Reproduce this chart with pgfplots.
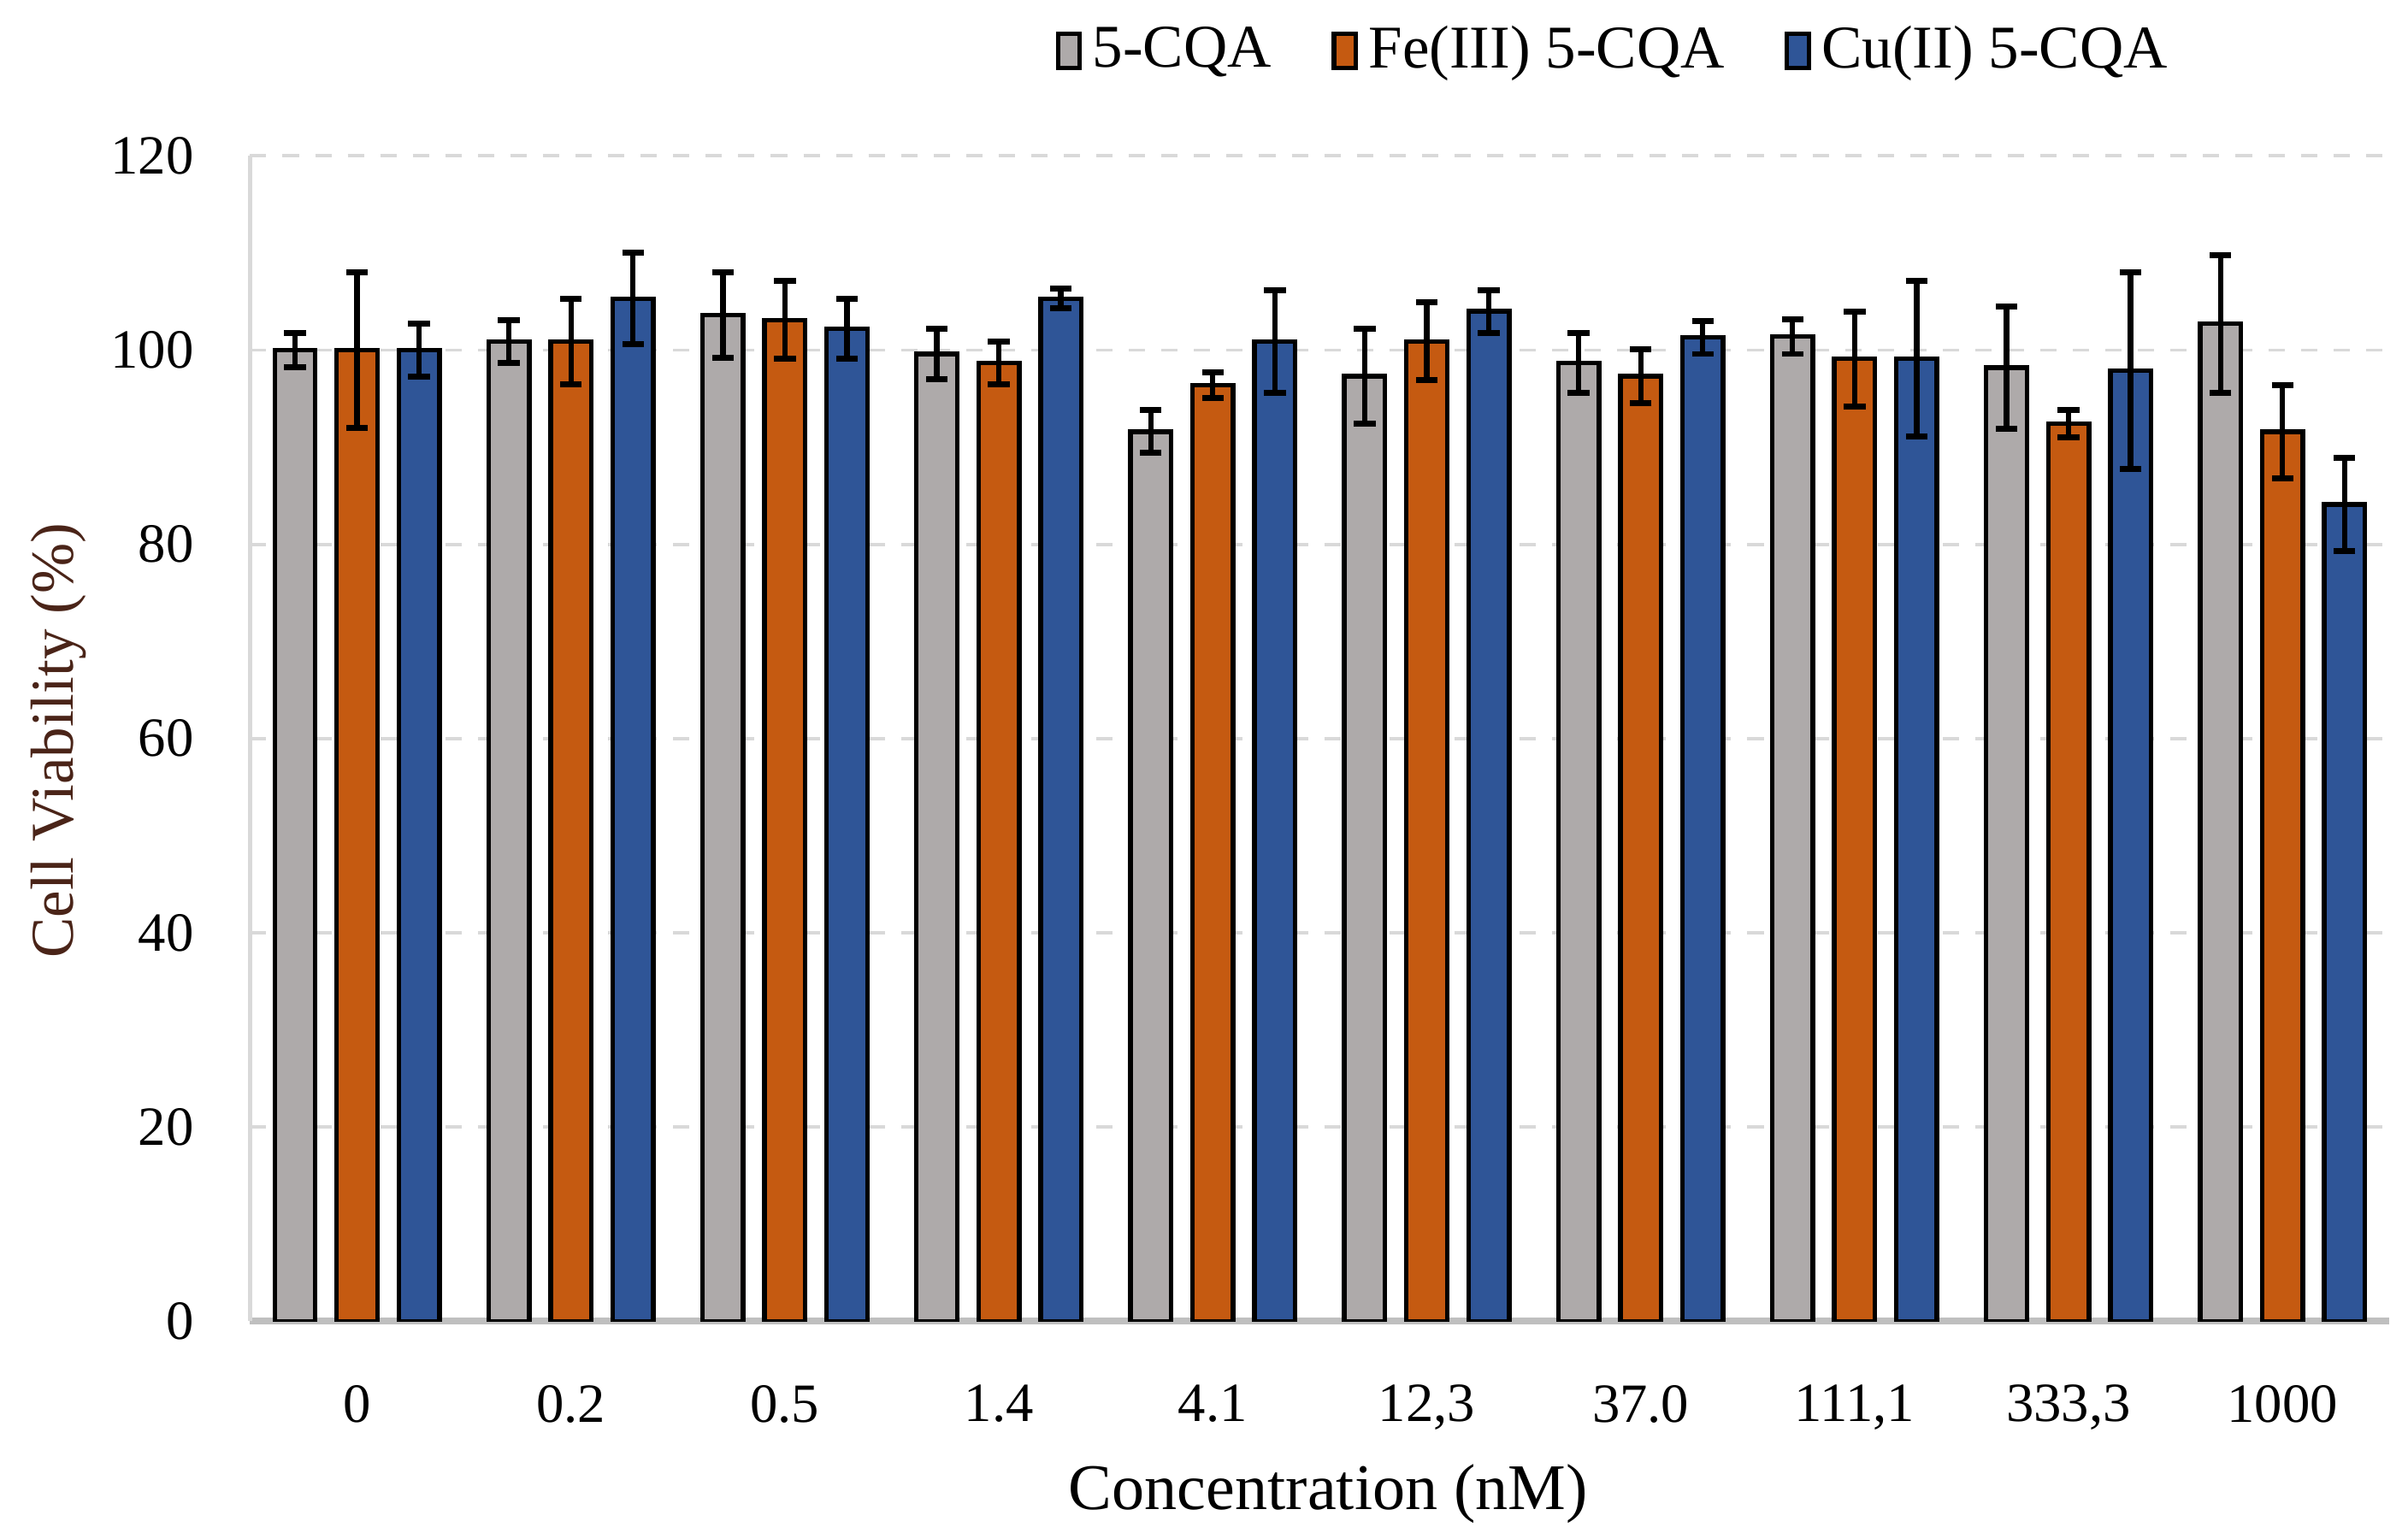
\documentclass[border=0pt]{standalone}
\usepackage{fontspec}
\setmainfont{Liberation Serif}
\usepackage{pgfplots}
\pgfplotsset{compat=1.18}
\definecolor{cgray}{HTML}{AEAAAA}
\definecolor{corange}{HTML}{C55A11}
\definecolor{cblue}{HTML}{2F5597}
\definecolor{gridc}{HTML}{D9D9D9}
\definecolor{axisc}{HTML}{BFBFBF}
\definecolor{ylab}{HTML}{4A2418}
\begin{document}
\begin{tikzpicture}
\useasboundingbox (-16.2mm,-13.7mm) rectangle (139.8mm,85.6mm);
\begin{axis}[
  at={(0,0)}, anchor=south west,
  scale only axis, width=138.6mm, height=75.5mm,
  ybar, bar width=0.19,
  xmin=-0.5, xmax=9.5, ymin=0, ymax=120,
  xtick={0,...,9},
  xticklabels={0,0.2,0.5,1.4,4.1,{12,3},37.0,{111,1},{333,3},1000},
  ytick={0,20,...,120},
  major tick length=0pt,
  /pgf/number format/assume math mode=true,
  tick label style={font=\fontsize{10.2}{12}\selectfont},
  xticklabel style={yshift=-2.9mm},
  yticklabel style={xshift=-2.4mm},
  ymajorgrids, major grid style={gridc, dashed, line width=0.6pt},
  axis x line*=bottom, axis y line*=left,
  x axis line style={axisc, line width=1.2pt, -},
  y axis line style={gridc, line width=0.8pt, -},
  xlabel={Concentration (nM)},
  ylabel={Cell Viability (\%)},
  xlabel style={font=\fontsize{12}{14}\selectfont, at={(axis description cs:0.504,0)}, anchor=center, yshift=-11.2mm},
  ylabel style={font=\fontsize{11.2}{13}\selectfont, color=ylab, at={(axis description cs:-0.0895,0.498)}, anchor=center},
  legend style={draw=none, fill=none, at={(axis description cs:0.639,1.09)}, anchor=center,
    font=\fontsize{11.2}{13}\selectfont, legend columns=3,
    /tikz/every even column/.append style={column sep=3.2mm}},
  legend image code/.code={\draw[#1, line width=0.8pt] (0cm,-0.11cm) rectangle (0.14cm,0.11cm);},
  error bars/y dir=both, error bars/y explicit,
  error bars/error bar style={black, line width=1pt},
  error bars/error mark options={black, line width=1.1pt, mark size=2pt, rotate=90},
]
\addplot[fill=cgray, draw=black, line width=0.85pt, bar shift=-0.29] coordinates {
 (0,100) +- (0,1.8)
 (1,100.9) +- (0,2.2)
 (2,103.6) +- (0,4.4)
 (3,99.6) +- (0,2.6)
 (4,91.6) +- (0,2.2)
 (5,97.3) +- (0,4.9)
 (6,98.7) +- (0,3.1)
 (7,101.4) +- (0,1.8)
 (8,98.2) +- (0,6.3)
 (9,102.7) +- (0,7.1)
};
\addplot[fill=corange, draw=black, line width=0.85pt, bar shift=0] coordinates {
 (0,100) +- (0,8.0)
 (1,100.9) +- (0,4.4)
 (2,103.1) +- (0,4.0)
 (3,98.7) +- (0,2.2)
 (4,96.4) +- (0,1.3)
 (5,100.9) +- (0,4.0)
 (6,97.3) +- (0,2.8)
 (7,99.1) +- (0,4.9)
 (8,92.4) +- (0,1.4)
 (9,91.6) +- (0,4.8)
};
\addplot[fill=cblue, draw=black, line width=0.85pt, bar shift=0.29] coordinates {
 (0,100) +- (0,2.7)
 (1,105.3) +- (0,4.7)
 (2,102.2) +- (0,3.1)
 (3,105.3) +- (0,1.0)
 (4,100.9) +- (0,5.3)
 (5,104.0) +- (0,2.2)
 (6,101.3) +- (0,1.7)
 (7,99.1) +- (0,8.0)
 (8,97.9) +- (0,10.1)
 (9,84.1) +- (0,4.8)
};
\legend{5-CQA, Fe(III) 5-CQA, Cu(II) 5-CQA}
\end{axis}
\end{tikzpicture}
\end{document}
